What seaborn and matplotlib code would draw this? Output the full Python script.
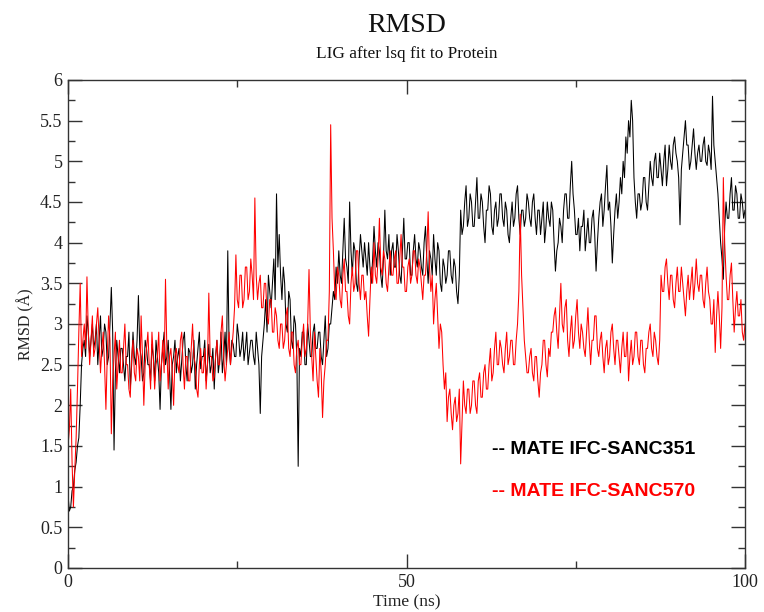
import numpy as np
import pandas as pd
import matplotlib
matplotlib.use("Agg")
import matplotlib.pyplot as plt
import seaborn as sns
from matplotlib.ticker import MultipleLocator

# RMSD (Angstrom), sampled every 0.2 ns from 0 to 100 ns
sanc351 = [
    0.9, 0.7, 0.75, 0.95, 1.0, 1.2, 1.3, 1.5, 1.6, 2.0, 2.5, 2.7, 2.8, 2.6, 3.1, 2.9, 2.6, 2.8, 3.0, 2.7,
    2.8, 3.0, 2.5, 2.8, 3.1, 2.6, 2.7, 3.0, 2.9, 2.5, 2.6, 3.0, 3.45, 2.9, 1.45, 2.4, 2.8, 2.6, 2.4, 2.7,
    2.7, 2.5, 2.3, 2.6, 2.6, 2.9, 2.2, 2.5, 2.9, 2.6, 2.5, 2.8, 3.35, 2.7, 2.6, 2.3, 2.4, 2.8, 2.7, 2.5,
    2.5, 2.3, 2.75, 2.6, 2.3, 2.8, 2.6, 2.4, 1.95, 2.5, 2.7, 2.9, 2.5, 2.6, 2.8, 2.4, 1.95, 2.5, 2.6, 2.8,
    2.4, 2.6, 2.7, 2.3, 2.55, 2.8, 2.9, 2.5, 2.3, 2.7, 2.65, 2.4, 2.5, 2.8, 2.2, 2.5, 2.7, 2.9, 2.45, 2.6,
    2.6, 2.8, 2.3, 2.5, 2.75, 2.4, 2.5, 2.7, 2.2, 2.6, 2.8, 2.4, 2.55, 2.9, 2.4, 2.6, 2.9, 2.5, 3.9, 2.7,
    2.5, 2.8, 2.75, 2.6, 2.6, 3.0, 2.85, 2.6, 2.7, 2.9, 2.55, 2.7, 2.9, 2.5, 2.65, 2.8, 2.8, 2.6, 2.5, 2.9,
    2.7, 2.5, 1.9, 2.6, 2.8, 3.0, 3.3, 2.9, 3.6, 3.4, 3.2, 3.5, 3.8, 3.3, 4.6, 3.7, 4.1, 3.6, 3.3, 3.7,
    3.5, 3.0, 2.9, 3.4, 3.3, 2.8, 2.7, 3.1, 3.0, 2.6, 1.25, 2.7, 2.6, 2.9, 2.9, 2.5, 2.5, 3.0, 2.8, 2.6,
    2.6, 2.9, 3.0, 2.7, 2.7, 2.9, 2.9, 2.6, 2.5, 2.8, 3.1, 2.6, 2.7, 3.0, 3.0, 3.2, 3.4, 3.3, 3.7, 3.5,
    3.9, 3.6, 3.5, 3.9, 4.3, 3.8, 3.7, 3.5, 4.5, 3.9, 3.6, 4.0, 3.9, 3.5, 3.4, 3.8, 4.1, 3.9, 3.7, 4.0,
    3.8, 3.6, 4.0, 3.7, 3.5, 3.8, 4.2, 3.9, 3.7, 4.0, 3.9, 3.6, 3.45, 3.8, 4.4, 3.9, 3.8, 4.1, 3.6, 3.9,
    4.0, 3.7, 3.7, 4.1, 3.9, 3.6, 3.5, 3.9, 4.3, 3.8, 3.8, 4.0, 4.0, 3.6, 3.6, 3.9, 4.1, 3.8, 3.7, 4.0,
    3.9, 3.7, 3.6, 4.0, 4.2, 3.8, 3.5, 3.9, 3.8, 3.6, 4.1, 3.8, 3.6, 4.0, 3.9, 3.5, 3.4, 3.8, 3.7, 3.5,
    3.6, 3.9, 3.9, 3.6, 3.5, 3.8, 3.7, 3.4, 3.25, 3.6, 4.4, 4.1, 4.2, 4.5, 4.7, 4.2, 4.3, 4.6, 4.5, 4.2,
    4.2, 4.5, 4.8, 4.3, 4.3, 4.6, 4.5, 4.2, 4.0, 4.4, 4.4, 4.7, 4.6, 4.2, 4.1, 4.4, 4.5, 4.2, 4.3, 4.6,
    4.6, 4.3, 4.2, 4.5, 4.4, 4.1, 4.0, 4.3, 4.5, 4.2, 4.3, 4.6, 4.7, 4.3, 4.1, 4.4, 4.4, 4.2, 4.3, 4.6,
    4.5, 4.3, 4.2, 4.5, 4.6, 4.3, 4.1, 4.4, 4.4, 4.1, 4.3, 4.5, 4.0, 4.2, 4.5, 4.3, 4.2, 4.5, 4.4, 4.0,
    3.65, 3.9, 4.0, 4.3, 4.2, 4.0, 4.4, 4.6, 4.6, 4.3, 4.3, 4.7, 5.0, 4.6, 4.4, 4.1, 4.1, 4.3, 3.9, 4.2,
    4.2, 4.4, 3.9, 4.1, 4.3, 4.0, 4.0, 4.3, 4.4, 4.1, 3.65, 4.0, 4.3, 4.5, 4.6, 4.2, 4.4, 4.7, 4.95, 4.4,
    4.5, 4.2, 3.75, 4.1, 4.4, 4.6, 4.3, 4.5, 4.8, 4.6, 5.0, 4.8, 5.3, 5.1, 5.5, 5.3, 5.75, 5.5, 4.8, 4.5,
    4.3, 4.6, 4.6, 4.4, 4.5, 4.8, 4.8, 4.5, 4.4, 4.7, 5.0, 4.8, 4.7, 5.0, 5.1, 4.8, 4.8, 5.1, 4.9, 4.7,
    5.0, 5.2, 4.7, 4.9, 5.2, 5.0, 4.9, 5.2, 5.3, 5.1, 5.0, 4.8, 4.22, 4.9, 5.1, 5.3, 5.5, 5.2, 5.2, 4.9,
    5.0, 5.2, 5.4, 5.1, 4.9, 5.1, 5.2, 5.0, 5.0, 5.2, 5.3, 5.0, 4.95, 5.2, 5.1, 4.9, 5.8, 5.2, 5.0, 4.8,
    4.6, 4.3, 4.0, 3.8, 3.55, 4.2, 4.5, 4.3, 4.3, 4.6, 4.8, 4.4, 4.4, 4.7, 4.6, 4.3, 4.3, 4.6, 4.5, 4.3,
    4.4,
]

sanc570 = [
    1.5, 1.7, 2.2, 1.3, 0.75, 1.2, 1.6, 2.2, 2.9, 3.5, 2.6, 2.8, 3.0, 2.7, 3.58, 2.9, 2.5, 2.8, 3.1, 2.6,
    2.7, 3.0, 3.2, 2.8, 2.4, 2.7, 2.9, 2.5, 1.95, 2.6, 3.1, 2.8, 1.65, 2.3, 2.6, 2.9, 2.2, 2.5, 2.8, 2.4,
    2.4, 2.7, 3.0, 2.5, 2.5, 2.2, 2.1, 2.6, 2.8, 2.4, 2.3, 2.7, 2.6, 2.3, 3.1, 2.6, 2.0, 2.5, 2.7, 2.9,
    2.5, 2.2, 2.9, 2.6, 2.2, 2.5, 2.6, 2.9, 2.3, 2.5, 2.8, 2.4, 3.55, 2.7, 2.2, 2.6, 2.7, 2.4, 2.0, 2.6,
    2.7, 2.5, 2.4, 2.8, 2.9, 2.5, 2.2, 2.6, 2.6, 2.3, 2.3, 2.7, 3.0, 2.6, 2.5, 2.2, 2.1, 2.5, 2.7, 2.4,
    2.4, 2.7, 2.2, 2.5, 3.38, 2.6, 2.6, 2.3, 2.35, 2.6, 2.8, 2.5, 2.5, 2.9, 3.1, 2.6, 2.3, 2.5, 2.7, 2.9,
    2.5, 2.7, 2.9, 3.2, 3.85, 3.3, 3.2, 3.6, 3.6, 3.2, 3.3, 3.7, 3.7, 3.3, 3.4, 3.8, 3.6, 3.3, 4.55, 3.6,
    3.3, 3.5, 3.6, 3.2, 3.2, 3.5, 3.5, 3.1, 3.0, 3.3, 3.3, 2.9, 2.9, 3.2, 3.1, 2.8, 2.7, 3.0, 3.0, 2.7,
    2.8, 3.1, 3.2, 2.7, 2.6, 2.9, 2.9, 2.5, 2.4, 2.7, 2.8, 2.5, 2.5, 2.8, 3.0, 2.6, 2.7, 3.0, 3.67, 2.9,
    2.6, 2.3, 2.9, 2.6, 2.3, 2.1, 2.7, 2.4, 1.85, 2.3, 2.5, 2.8, 2.8, 3.4, 5.45, 4.3, 3.9, 3.4, 3.3, 3.7,
    3.6, 3.3, 3.2, 3.6, 3.8, 3.4, 3.4, 3.1, 3.0, 3.5, 3.7, 3.4, 3.5, 3.9, 3.9, 3.5, 3.3, 3.6, 3.6, 3.3,
    3.4, 3.1, 2.85, 3.3, 3.7, 3.5, 4.0, 3.6, 3.5, 3.8, 4.3, 3.7, 3.6, 3.9, 3.8, 3.5, 3.4, 3.7, 3.9, 3.6,
    3.6, 3.8, 3.9, 3.5, 3.5, 3.8, 4.1, 3.7, 3.7, 3.4, 3.4, 3.7, 3.8, 3.5, 3.6, 3.9, 3.9, 3.6, 3.5, 3.8,
    3.7, 3.5, 3.3, 3.6, 3.6, 3.9, 4.38, 3.7, 3.4, 3.6, 3.0, 3.3, 3.5, 3.1, 2.7, 3.0, 2.9, 2.5, 2.2, 2.4,
    1.8, 2.1, 2.2, 1.9, 1.7, 2.0, 2.1, 1.8, 1.9, 2.2, 1.28, 1.8, 2.3, 2.0, 1.9, 2.2, 2.2, 1.9, 2.0, 2.3,
    2.3, 2.0, 1.9, 2.3, 2.4, 2.1, 2.1, 2.4, 2.5, 2.2, 2.2, 2.5, 2.7, 2.3, 2.4, 2.7, 2.9, 2.5, 2.5, 2.8,
    2.7, 2.5, 2.4, 2.7, 2.9, 2.5, 2.6, 2.8, 2.8, 2.5, 2.5, 2.8, 3.0, 3.4, 4.35, 3.6, 3.2, 2.8, 2.6, 2.4,
    2.4, 2.6, 2.7, 2.4, 2.3, 2.6, 2.6, 2.3, 2.1, 2.4, 2.5, 2.8, 2.8, 2.5, 2.35, 2.7, 2.6, 2.9, 2.9, 3.1,
    3.2, 2.9, 2.7, 3.1, 3.5, 3.0, 2.9, 3.2, 3.3, 2.8, 2.6, 2.9, 3.1, 2.7, 2.8, 3.1, 3.3, 2.9, 2.7, 3.0,
    2.9, 2.7, 2.6, 2.9, 3.2, 2.8, 2.5, 2.8, 2.8, 3.1, 3.1, 2.7, 2.6, 2.8, 2.9, 2.6, 2.4, 2.7, 2.8, 2.5,
    2.6, 2.9, 3.0, 2.7, 2.5, 2.8, 2.8, 2.6, 2.4, 2.7, 2.9, 2.6, 2.6, 2.9, 2.3, 2.6, 2.8, 2.5, 2.6, 2.9,
    2.9, 2.6, 2.5, 2.8, 2.8, 2.5, 2.4, 2.7, 2.7, 2.9, 3.0, 2.7, 2.6, 2.9, 2.8, 2.6, 2.5, 2.8, 3.6, 3.4,
    3.4, 3.7, 3.8, 3.5, 3.3, 3.6, 3.6, 3.3, 3.2, 3.5, 3.7, 3.4, 3.4, 3.7, 3.5, 3.3, 3.1, 3.4, 3.6, 3.3,
    3.5, 3.7, 3.3, 3.5, 3.8, 3.5, 3.4, 3.6, 3.6, 3.3, 3.2, 3.5, 3.7, 3.4, 3.3, 3.0, 3.0, 3.3, 2.65, 3.1,
    3.4, 3.1, 2.7, 3.2, 4.8, 4.0, 3.6, 3.3, 3.3, 3.6, 3.75, 3.3, 2.9, 3.2, 3.4, 3.1, 3.1, 3.3, 2.9, 2.8,
    3.0,
]

time_step_ns = 0.2
time_ns = np.arange(len(sanc351)) * time_step_ns
time_ns_570 = np.arange(len(sanc570)) * time_step_ns

series_labels = ["-- MATE IFC-SANC351", "-- MATE IFC-SANC570"]
series_colors = ["black", "red"]
x_ticks = [0, 50, 100]
y_tick_labels = ["0", "0.5", "1", "1.5", "2", "2.5", "3", "3.5", "4", "4.5", "5", "5.5", "6"]

df = pd.DataFrame({
    "Time": np.concatenate([time_ns, time_ns_570]),
    "RMSD": np.concatenate([sanc351, sanc570]),
    "Series": [series_labels[0]] * len(sanc351) + [series_labels[1]] * len(sanc570),
})

sns.set_style("white")
plt.rcParams["font.family"] = ["Liberation Serif", "DejaVu Serif"]

fig = plt.figure(figsize=(7.64, 6.12), dpi=100)
ax = fig.add_axes([68 / 764, 1 - 568 / 612, 677 / 764, 488 / 612])

sns.lineplot(data=df, x="Time", y="RMSD", hue="Series",
             palette=dict(zip(series_labels, series_colors)),
             linewidth=0.75, legend=False, ax=ax, estimator=None, sort=False)

ax.set_xlim(0, 100)
ax.set_ylim(0, 6)
ax.set_xticks(x_ticks)
ax.set_xticklabels([str(t) for t in x_ticks])
ax.xaxis.set_minor_locator(MultipleLocator(25))
ax.set_yticks(np.arange(len(y_tick_labels)) * 0.5)
ax.set_yticklabels(y_tick_labels)
ax.yaxis.set_minor_locator(MultipleLocator(0.25))

ax.tick_params(which="both", direction="in", top=True, right=True, left=True, bottom=True,
               colors="#333333", labelcolor="#222222", labelsize=13, width=1)
ax.tick_params(which="major", length=10, pad=4)
ax.tick_params(which="minor", length=5)
for sp in ax.spines.values():
    sp.set_color("#333333")
    sp.set_linewidth(1.0)

ax.set_xlabel("Time (ns)", fontsize=12.5, color="#222222", labelpad=3)
ax.set_ylabel("RMSD (Å)", fontsize=11.5, color="#222222", labelpad=4)

fig.text(407 / 764, 1 - 26 / 612, "RMSD", ha="center", va="center", fontsize=20, color="#111111")
fig.text(407 / 764, 1 - 54 / 612, "LIG after lsq fit to Protein", ha="center", va="center",
         fontsize=12.4, color="#111111")

for lbl, col, yy in zip(series_labels, series_colors, [0.242, 0.156]):
    ax.text(0.626, yy, lbl, transform=ax.transAxes, color=col, fontsize=14,
            fontweight="bold", family=["Liberation Sans", "DejaVu Sans"], va="center", ha="left")

fig.savefig("out.png", dpi=100, facecolor="white")
